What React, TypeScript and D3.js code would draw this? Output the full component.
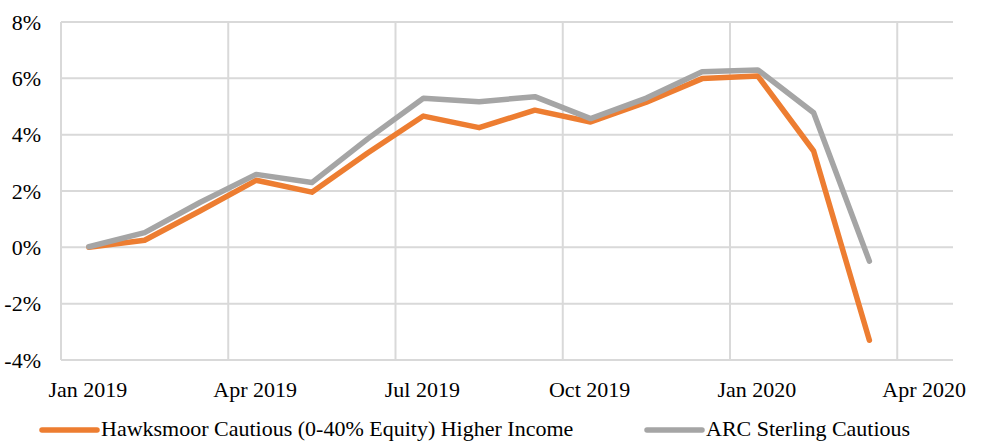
import React, { useRef, useEffect } from 'react';
import * as d3 from 'd3';

// months on the category axis (Apr 2020 has no data, only a label)
const months = [
  'Jan 2019', 'Feb 2019', 'Mar 2019', 'Apr 2019', 'May 2019', 'Jun 2019',
  'Jul 2019', 'Aug 2019', 'Sep 2019', 'Oct 2019', 'Nov 2019', 'Dec 2019',
  'Jan 2020', 'Feb 2020', 'Mar 2020', 'Apr 2020'
];
const tickLabels = ['Jan 2019', 'Apr 2019', 'Jul 2019', 'Oct 2019', 'Jan 2020', 'Apr 2020'];
const yTicks = [-4, -2, 0, 2, 4, 6, 8];

const hawksmoor = [0, 0.25, 1.3, 2.38, 1.96, 3.35, 4.66, 4.25, 4.87, 4.45, 5.15, 5.99, 6.08, 3.42, -3.3];
const arc = [0.02, 0.52, 1.6, 2.59, 2.3, 3.85, 5.29, 5.17, 5.35, 4.57, 5.3, 6.23, 6.3, 4.78, -0.49];

const seriesNames = ['Hawksmoor Cautious (0-40% Equity) Higher Income', 'ARC Sterling Cautious'];
const colors = ['#ED7D31', '#A5A5A5'];

const W = 987;
const H = 441;
const FONT = "'Liberation Serif', 'DejaVu Serif', serif";

const App = () => {
  const ref = useRef<SVGSVGElement>(null);

  useEffect(() => {
    const svg = d3.select(ref.current);
    svg.selectAll('*').remove();

    const left = 61, right = 953, top = 22, bottom = 360;

    const x = d3.scaleBand().domain(months).range([left, right]);
    const y = d3.scaleLinear().domain([-4, 8]).range([bottom, top]);
    const cx = (m: string) => (x(m) as number) + x.bandwidth() / 2;

    // horizontal grid
    svg.append('g')
      .selectAll('line')
      .data(yTicks)
      .join('line')
      .attr('x1', left).attr('x2', right)
      .attr('y1', d => y(d)).attr('y2', d => y(d))
      .attr('stroke', '#D9D9D9')
      .attr('stroke-width', 2);

    // vertical grid at quarter boundaries
    svg.append('g')
      .selectAll('line')
      .data(tickLabels)
      .join('line')
      .attr('x1', d => x(d) as number).attr('x2', d => x(d) as number)
      .attr('y1', top).attr('y2', bottom)
      .attr('stroke', '#D9D9D9')
      .attr('stroke-width', 2);

    // y labels
    svg.append('g')
      .selectAll('text')
      .data(yTicks)
      .join('text')
      .attr('x', 41)
      .attr('y', d => y(d))
      .attr('dy', '0.35em')
      .attr('text-anchor', 'end')
      .style('font-family', FONT)
      .style('font-size', '22px')
      .attr('fill', '#000')
      .text(d => `${d}%`);

    // x labels
    svg.append('g')
      .selectAll('text')
      .data(tickLabels)
      .join('text')
      .attr('x', d => cx(d) - 1)
      .attr('y', 397)
      .attr('text-anchor', 'middle')
      .style('font-family', FONT)
      .style('font-size', '22px')
      .attr('fill', '#000')
      .text(d => d);

    const line = d3.line<number>()
      .x((_, i) => cx(months[i]))
      .y(d => y(d));

    [hawksmoor, arc].forEach((s, i) => {
      svg.append('path')
        .datum(s)
        .attr('d', line)
        .attr('fill', 'none')
        .attr('stroke', colors[i])
        .attr('stroke-width', 5.5)
        .attr('stroke-linejoin', 'round')
        .attr('stroke-linecap', 'round');
    });

    // legend
    const legendX = [42, 647];
    const legend = svg.append('g')
      .selectAll('g')
      .data(seriesNames)
      .join('g')
      .attr('transform', (_, i) => `translate(${legendX[i]},430)`);

    legend.append('line')
      .attr('x1', 0).attr('x2', 55)
      .attr('y1', 0).attr('y2', 0)
      .attr('stroke', (_, i) => colors[i])
      .attr('stroke-width', 5.5)
      .attr('stroke-linecap', 'round');

    legend.append('text')
      .attr('x', 59)
      .attr('y', 6)
      .style('font-family', FONT)
      .style('font-size', '22px')
      .attr('fill', '#000')
      .text(d => d);
  }, []);

  return (
    <svg ref={ref} width={W} height={H} style={{ position: 'absolute', left: 0, top: 0, background: '#fff' }} />
  );
};

export default App;
